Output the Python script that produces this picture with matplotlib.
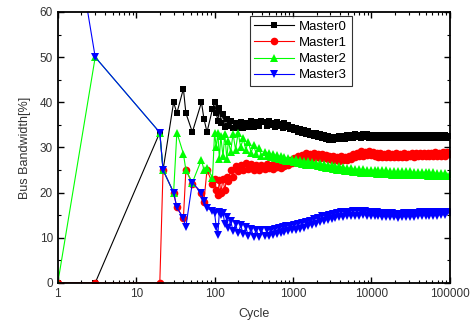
import matplotlib
matplotlib.use("Agg")
import matplotlib.pyplot as plt
from matplotlib.ticker import LogLocator, FixedLocator, MultipleLocator, NullFormatter

plt.rcParams['font.family'] = ['Liberation Sans', 'DejaVu Sans']

# sampled cycles (shared by all masters)
cycles = [1, 3, 20, 22, 30, 33, 40, 43, 52, 68, 73, 80, 94, 100, 105,
          110, 115, 120, 128, 135, 143, 150, 160, 172, 185,
          200, 215, 232, 250, 270, 292, 315, 340, 367, 396,
          438, 464, 491, 520, 551, 584, 618, 655, 694, 735,
          778, 824, 873, 925, 980,
          1038, 1100, 1165, 1230, 1300, 1380, 1460, 1550, 1640, 1740,
          1840, 1950, 2070, 2190, 2320, 2460, 2600, 2760, 2920, 3100,
          3280, 3480, 3680, 3900, 4130, 4380, 4640, 4910, 5200, 5510,
          5840, 6180, 6550, 6940, 7350, 7780, 8240, 8730, 9250, 9800,
          10380, 11000, 11650, 12300, 13000, 13800, 14600, 15500, 16400, 17400,
          18400, 19500, 20700, 21900, 23200, 24600, 26000, 27600, 29200, 31000,
          32800, 34800, 36800, 39000, 41300, 43800, 46400, 49100, 52000, 55100,
          58400, 61800, 65500, 69400, 73500, 77800, 82400, 87300, 92500, 100000]

master0 = [0, 0, 33.3, 25, 40, 37.6, 43, 37.6, 33.4, 40, 36.4, 33.4, 38.5, 40, 37.6,
           35.8, 38.7, 35.5, 37.3, 34.5, 36.2, 34.7, 35.8, 34.2, 35.4,
           34.3, 35.6, 34.2, 35.3, 34.6, 35.8, 34.6, 35.7, 34.8, 35.9,
           35.6, 34.7, 35.9, 34.9, 35.4, 34.6, 35.7, 34.8, 35.2, 34.4,
           35.3, 34.5, 34.9, 34.0, 34.6,
           33.8, 34.4, 33.5, 34.1, 33.2, 33.9, 33.0, 33.6, 32.7, 33.3,
           32.5, 33.1, 32.3, 32.9, 32.0, 32.7, 31.8, 32.5, 31.7, 32.3,
           31.6, 32.4, 31.8, 32.6, 31.9, 32.5, 31.8, 32.7, 32.0, 32.8,
           32.1, 32.9, 32.2, 32.8, 32.1, 33.0, 32.2, 32.9, 32.1, 32.8,
           32.0, 32.8, 32.1, 32.7, 32.0, 32.8, 32.1, 32.7, 32.0, 32.8,
           32.1, 32.8, 32.0, 32.7, 32.1, 32.8, 32.0, 32.7, 32.1, 32.8,
           32.1, 32.7, 32.0, 32.8, 32.1, 32.7, 32.0, 32.8, 32.1, 32.7,
           32.1, 32.8, 32.0, 32.7, 32.1, 32.8, 32.0, 32.7, 32.1, 32.5]

master1 = [0, 0, 0, 25, 20, 16.7, 14.3, 25, 22, 20, 18, 25, 22, 23, 20.5,
           19.5, 22.8, 20.0, 23.0, 20.5, 23.5, 22.5, 25.0, 23.5, 25.8,
           24.8, 26.2, 25.0, 26.5, 25.2, 26.3, 25.0, 26.2, 25.0, 26.0,
           25.2, 26.3, 25.4, 26.0, 25.3, 26.5, 25.6, 26.2, 25.5, 26.7,
           25.8, 26.9, 26.2, 27.3, 26.6,
           27.6, 26.9, 28.1, 27.3, 28.4, 27.6, 28.7, 27.8, 28.5, 27.7,
           28.8, 27.9, 28.6, 27.7, 28.5, 27.6, 28.4, 27.5, 28.2, 27.3,
           28.0, 27.2, 27.9, 27.1, 28.0, 27.2, 27.9, 27.3, 28.2, 27.5,
           28.5, 27.8, 28.8, 28.0, 29.1, 28.2, 29.0, 28.3, 29.2, 28.4,
           28.9, 28.0, 28.8, 27.9, 28.7, 27.9, 28.6, 27.8, 28.7, 27.9,
           28.6, 27.8, 28.7, 27.9, 28.6, 27.9, 28.7, 27.9, 28.6, 28.0,
           28.7, 27.9, 28.8, 28.0, 28.7, 28.0, 28.8, 28.1, 28.7, 28.0,
           28.8, 28.1, 28.9, 28.1, 28.8, 28.2, 28.9, 28.2, 28.9, 28.6]

master2 = [0, 50, 33.3, 25, 20, 33.3, 28.6, 25, 22.2, 27.3, 25, 25.5, 23.3, 33.3, 30.0,
           33.3, 27.5, 32.5, 28.0, 33.0, 27.5, 31.5, 29.0, 33.0, 29.5,
           33.3, 30.0, 32.0, 29.5, 31.3, 28.8, 30.5, 28.5, 29.8, 28.2,
           29.0, 28.2, 28.8, 27.9, 28.5, 27.6, 28.3, 27.4, 28.1, 27.2,
           27.9, 27.0, 27.7, 26.9, 27.5,
           26.7, 27.4, 26.5, 27.2, 26.4, 27.0, 26.2, 26.9, 26.1, 26.8,
           26.0, 26.6, 25.8, 26.5, 25.7, 26.3, 25.5, 26.2, 25.4, 26.0,
           25.2, 25.9, 25.1, 25.8, 25.0, 25.6, 24.8, 25.5, 24.7, 25.4,
           24.6, 25.3, 24.5, 25.2, 24.4, 25.2, 24.4, 25.1, 24.3, 25.1,
           24.3, 25.0, 24.2, 25.0, 24.2, 24.9, 24.1, 24.9, 24.1, 24.8,
           24.0, 24.8, 24.0, 24.8, 24.0, 24.7, 23.9, 24.7, 23.9, 24.7,
           23.9, 24.6, 23.8, 24.6, 23.8, 24.6, 23.8, 24.5, 23.7, 24.5,
           23.7, 24.5, 23.7, 24.4, 23.6, 24.4, 23.6, 24.4, 23.6, 24.1]

master3 = [100, 50, 33.3, 25, 20, 16.7, 14.3, 12.4, 22.2, 20, 18.2, 16.5, 16.0, 15.4, 12.4,
           10.6, 15.8, 15.0, 15.5, 13.0, 14.5, 12.2, 13.8, 11.5, 13.0,
           11.0, 12.8, 10.8, 12.3, 10.4, 12.0, 10.2, 11.8, 10.2, 11.6,
           10.4, 11.6, 10.3, 11.7, 10.6, 11.9, 10.8, 12.1, 11.0, 12.3,
           11.2, 12.5, 11.4, 12.7, 11.6,
           12.9, 11.8, 13.1, 12.0, 13.3, 12.2, 13.5, 12.5, 13.8, 12.8,
           14.1, 13.1, 14.4, 13.4, 14.7, 13.7, 14.9, 13.9, 15.1, 14.1,
           15.3, 14.3, 15.5, 14.5, 15.6, 14.6, 15.7, 14.7, 15.8, 14.8,
           15.9, 14.9, 15.9, 14.9, 15.9, 15.0, 15.9, 14.9, 15.8, 14.9,
           15.7, 14.8, 15.6, 14.7, 15.5, 14.6, 15.5, 14.5, 15.4, 14.5,
           15.4, 14.5, 15.3, 14.4, 15.3, 14.5, 15.4, 14.5, 15.4, 14.6,
           15.5, 14.6, 15.5, 14.7, 15.6, 14.7, 15.6, 14.8, 15.7, 14.8,
           15.7, 14.9, 15.8, 14.9, 15.8, 15.0, 15.8, 15.0, 15.8, 15.5]

series = [
    ("Master0", master0, "black", "s", 5),
    ("Master1", master1, "#ff0000", "o", 5.5),
    ("Master2", master2, "#00ff00", "^", 6),
    ("Master3", master3, "#0000ff", "v", 6),
]

fig = plt.figure(figsize=(4.7, 3.24), dpi=100)
ax = fig.add_axes([0.123, 0.127, 0.834, 0.836])

for name, vals, color, marker, ms in series:
    ax.plot(cycles, vals, color=color, marker=marker, markersize=ms,
            linewidth=0.8, markeredgewidth=0, label=name)

ax.set_xscale('log')
ax.set_xlim(1, 100000)
ax.set_ylim(0, 60)

ax.xaxis.set_major_locator(FixedLocator([1, 10, 100, 1000, 10000, 100000]))
ax.set_xticklabels(['1', '10', '100', '1000', '10000', '100000'])
ax.xaxis.set_minor_locator(LogLocator(base=10, subs=range(2, 10), numticks=20))
ax.xaxis.set_minor_formatter(NullFormatter())
ax.yaxis.set_major_locator(MultipleLocator(10))
ax.yaxis.set_minor_locator(MultipleLocator(5))

ax.tick_params(which='both', direction='in', top=True, right=True,
               labelsize=8.5, labelcolor='#333333')
ax.tick_params(which='major', length=4, width=1)
ax.tick_params(which='minor', length=2.5, width=0.8)
for s in ax.spines.values():
    s.set_linewidth(1.3)

ax.set_xlabel("Cycle", fontsize=9, color='#333333', labelpad=6)
ax.set_ylabel("Bus Bandwidth[%]", fontsize=9, color='#333333', labelpad=6)

leg = ax.legend(loc='upper left', bbox_to_anchor=(0.49, 0.985), fontsize=9.5,
                frameon=True, fancybox=False, handlelength=3.0,
                borderpad=0.35, labelspacing=0.3, handletextpad=0.4,
                borderaxespad=0)
leg.get_frame().set_edgecolor('black')
leg.get_frame().set_linewidth(0.8)

fig.savefig("out.png", dpi=100)
